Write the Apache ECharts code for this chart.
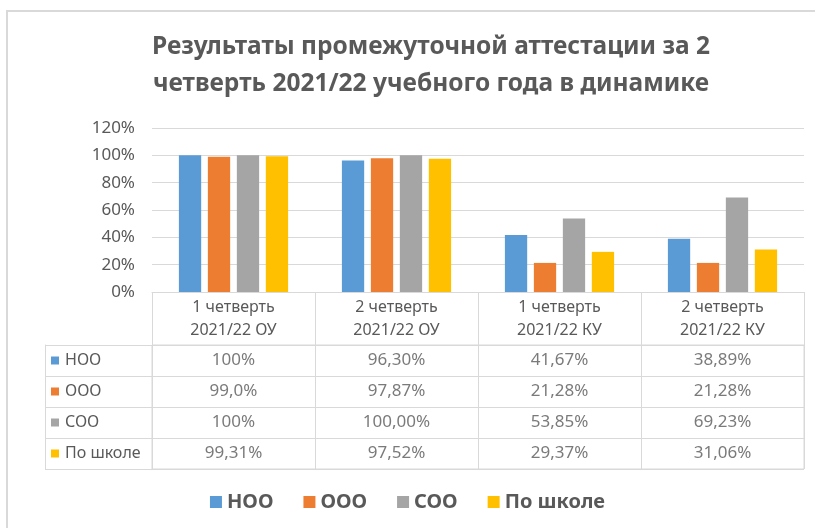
<!DOCTYPE html>
<html>
<head>
    <meta charset="utf-8">
    <title>Результаты промежуточной аттестации</title>
    <script src="https://cdn.jsdelivr.net/npm/echarts@6/dist/echarts.min.js"></script>
</head>
<body style="margin:0">
<div id="main" style="width: 815px;height:528px;"></div>
<script>
// данные
var categories = ['1 четверть\n2021/22 ОУ', '2 четверть\n2021/22 ОУ', '1 четверть\n2021/22 КУ', '2 четверть\n2021/22 КУ'];
var seriesNames = ['НОО', 'ООО', 'СОО', 'По школе'];
var nooValues = [1.00, 0.9630, 0.4167, 0.3889];
var oooValues = [0.990, 0.9787, 0.2128, 0.2128];
var sooValues = [1.00, 1.00, 0.5385, 0.6923];
var schoolValues = [0.9931, 0.9752, 0.2937, 0.3106];
// подписи в таблице (как в исходнике)
var nooLabels = ['100%', '96,30%', '41,67%', '38,89%'];
var oooLabels = ['99,0%', '97,87%', '21,28%', '21,28%'];
var sooLabels = ['100%', '100,00%', '53,85%', '69,23%'];
var schoolLabels = ['99,31%', '97,52%', '29,37%', '31,06%'];
var yTicks = [0, 0.2, 0.4, 0.6, 0.8, 1.0, 1.2];

var colors = ['#5B9BD5', '#ED7D31', '#A5A5A5', '#FFC000'];
var values = [nooValues, oooValues, sooValues, schoolValues];
var tableLabels = [nooLabels, oooLabels, sooLabels, schoolLabels];
var font = '"Noto Sans", sans-serif';
var textColor = '#595959';
var lineColor = '#d9d9d9';

// ячейки таблицы
var cells = [];
tableLabels.forEach(function (row, i) {
    row.forEach(function (txt, j) {
        cells.push([j, i, txt]);
    });
});

var rich = {};
colors.forEach(function (c, i) {
    rich['m' + i] = {width: 8, height: 8, backgroundColor: c};
});
rich.t = {color: textColor, fontSize: 16, fontFamily: font, padding: [0, 0, 0, 6]};

var series = seriesNames.map(function (name, i) {
    return {
        name: name,
        type: 'bar',
        xAxisIndex: 0,
        yAxisIndex: 0,
        barGap: '30%',
        barCategoryGap: '33%',
        itemStyle: {color: colors[i]},
        data: values[i]
    };
});
series.push({
    type: 'scatter',
    xAxisIndex: 1,
    yAxisIndex: 1,
    symbol: 'rect',
    symbolSize: 1,
    itemStyle: {color: 'rgba(0,0,0,0)'},
    silent: true,
    label: {
        show: true,
        position: 'inside',
        color: textColor,
        fontSize: 17,
        fontFamily: font,
        formatter: function (p) { return p.value[2]; }
    },
    data: cells
});

option = {
    animation: false,
    backgroundColor: '#fff',
    textStyle: {fontFamily: font},
    graphic: [{
        type: 'rect',
        shape: {x: 7, y: 11, width: 830, height: 540},
        style: {fill: 'none', stroke: lineColor, lineWidth: 2},
        silent: true
    }],
    title: {
        text: 'Результаты промежуточной аттестации за 2\nчетверть 2021/22 учебного года в динамике',
        left: 426,
        textAlign: 'center',
        top: 24,
        textStyle: {
            color: textColor,
            fontSize: 24.5,
            fontWeight: 'bold',
            fontFamily: font,
            lineHeight: 37
        }
    },
    legend: {
        data: seriesNames,
        bottom: 11,
        left: 'center',
        icon: 'rect',
        itemWidth: 12,
        itemHeight: 12,
        itemGap: 30,
        textStyle: {color: textColor, fontSize: 20, fontWeight: 'bold', fontFamily: font}
    },
    grid: [
        {left: 152, right: 11, top: 128, height: 164, containLabel: false},
        {left: 152, right: 11, top: 345, height: 124, show: true, borderColor: lineColor, borderWidth: 1, containLabel: false}
    ],
    xAxis: [
        {
            type: 'category',
            gridIndex: 0,
            data: categories,
            axisLine: {lineStyle: {color: lineColor}},
            axisTick: {show: true, length: 53, interval: 0, lineStyle: {color: lineColor}},
            axisLabel: {color: textColor, fontSize: 16, lineHeight: 23, margin: 4, interval: 0, fontFamily: font}
        },
        {
            type: 'category',
            gridIndex: 1,
            data: categories,
            axisLine: {show: false},
            axisTick: {show: false},
            axisLabel: {show: false},
            splitLine: {show: true, interval: 0, lineStyle: {color: lineColor}}
        }
    ],
    yAxis: [
        {
            type: 'value',
            gridIndex: 0,
            min: yTicks[0],
            max: yTicks[yTicks.length - 1],
            interval: 0.2,
            axisLine: {show: false},
            axisTick: {show: false},
            splitLine: {lineStyle: {color: lineColor}},
            axisLabel: {
                color: textColor,
                fontSize: 17,
                margin: 17,
                fontFamily: font,
                formatter: function (v) { return Math.round(v * 100) + '%'; }
            }
        },
        {
            type: 'category',
            gridIndex: 1,
            inverse: true,
            data: seriesNames,
            axisLine: {show: false},
            axisTick: {show: true, length: 107, interval: 0, lineStyle: {color: lineColor}},
            splitLine: {show: true, interval: 0, lineStyle: {color: lineColor}},
            axisLabel: {
                align: 'left',
                margin: 101,
                interval: 0,
                formatter: function (v, i) { return '{m' + i + '|}{t|' + v + '}'; },
                rich: rich
            }
        },
        {
            type: 'category',
            gridIndex: 1,
            position: 'left',
            offset: 107,
            data: seriesNames,
            axisLine: {show: true, lineStyle: {color: lineColor}},
            axisTick: {show: false},
            axisLabel: {show: false}
        }
    ],
    series: series
};

var myChart = echarts.init(document.getElementById('main'));
myChart.setOption(option);
</script>
</body>
</html>
